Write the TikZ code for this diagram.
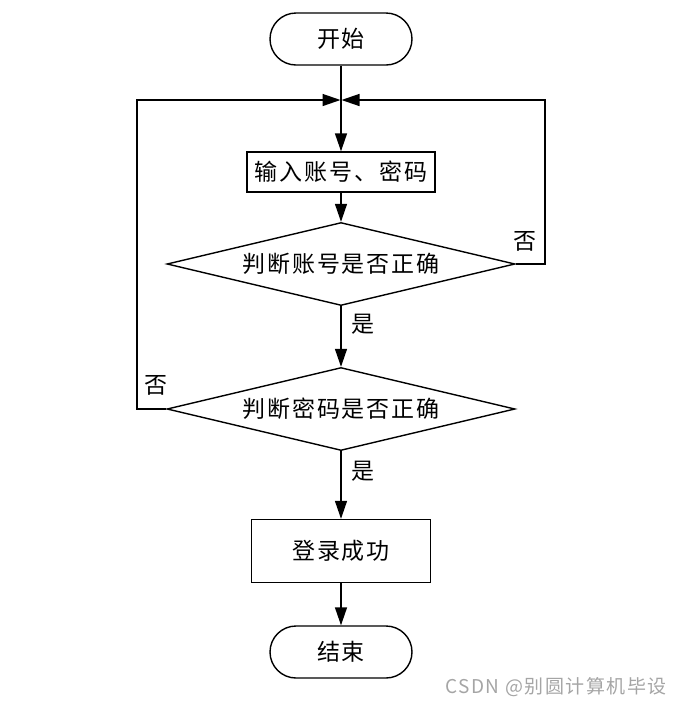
\documentclass[tikz,border=0pt]{standalone}
\usepackage{fontspec}
\setmainfont[LetterSpace=8]{Noto Sans CJK SC}
\usetikzlibrary{arrows.meta,shapes.geometric}
\definecolor{markgray}{RGB}{165,165,165}
\tikzset{
  terminal/.style={draw, rounded corners=26pt, minimum width=142pt, minimum height=52pt},
  process/.style={draw, rectangle},
  decision/.style={draw, diamond, aspect=4.2, inner sep=0pt, minimum width=348pt, minimum height=83pt},
  arr/.style={-{Triangle[length=18pt,width=12pt]}},
  lbl/.style={inner sep=2pt}
}
\begin{document}
\begin{tikzpicture}[x=1pt, y=-1pt, line width=1.4pt, font=\fontsize{23}{27}\selectfont]
        \useasboundingbox (0,0) rectangle (678,705);

        \node[terminal] (start) at (341,39) {开始};
        \coordinate (merge) at (341,100);
        \node[process, minimum width=188pt, minimum height=40pt] (input) at (341,172) {输入账号、密码};
        \node[decision] (chkuser) at (341,264) {判断账号是否正确};
        \node[decision] (chkpass) at (341,409) {判断密码是否正确};
        \node[process, minimum width=179pt, minimum height=63pt] (success) at (341,551) {登录成功};
        \node[terminal] (stop) at (341,652) {结束};

        \draw[arr] (start) -- (input);
        \draw[arr] (input) -- (chkuser);
        \draw[arr] (chkuser) -- node[pos=0.3, right=6pt] {是} (chkpass);
        \draw[arr] (chkpass) -- node[pos=0.3, right=6pt] {是} (success);
        \draw[arr] (success) -- (stop);

        % loops back to the input box
        \coordinate (rturn) at (545,100);
        \coordinate (lturn) at (137,100);
        \draw[arr, shorten >=0.5pt] (chkuser.east) -| (rturn) -- (merge);
        \node[lbl] (rno) at (525,241) {否};
        \draw[arr, shorten >=0.5pt] (chkpass.west) -| (lturn) -- (merge);
        \node[lbl] (lno) at (156,385) {否};

        \node[text=markgray, font=\fontsize{19}{22}\selectfont] (mark) at (556,687) {CSDN @别圆计算机毕设};
      \end{tikzpicture}
\end{document}
